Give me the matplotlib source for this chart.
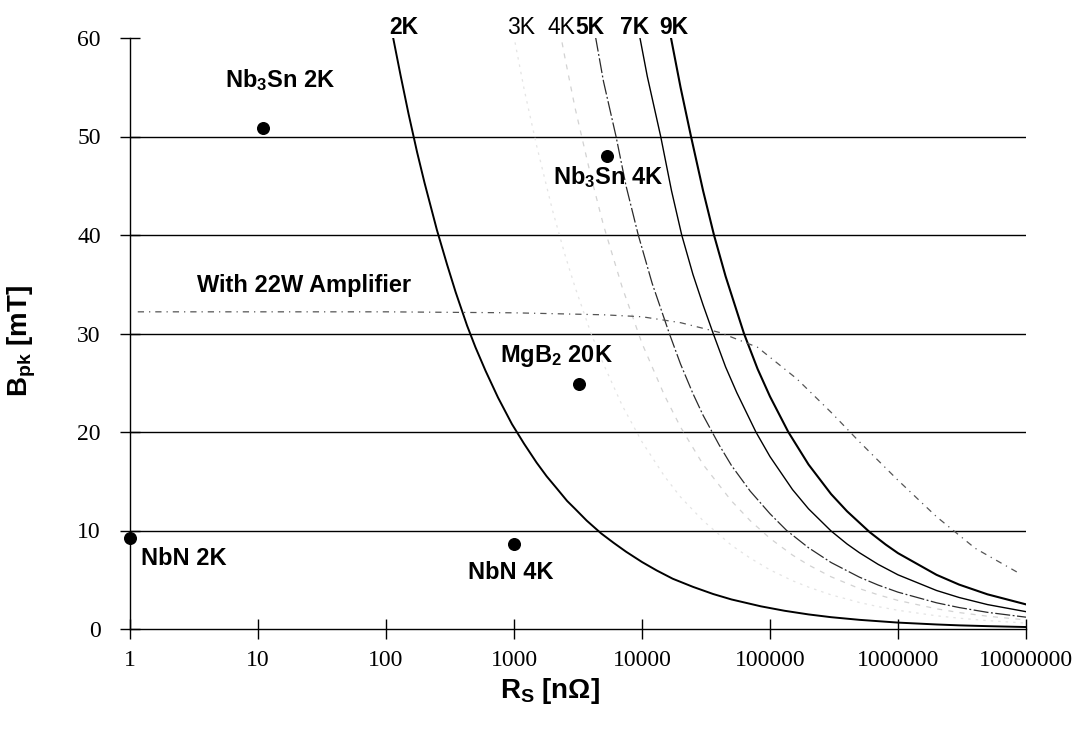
import matplotlib
matplotlib.use('Agg')
import matplotlib.pyplot as plt

plt.rcParams['mathtext.default'] = 'regular'
plt.rcParams['font.family'] = ['Liberation Sans', 'DejaVu Sans']

# ---------------- data ----------------
x_ticks = [1, 10, 100, 1000, 10000, 100000, 1000000, 10000000]
x_tick_labels = ['1', '10', '100', '1000', '10000', '100000', '1000000', '10000000']
y_ticks = [0, 10, 20, 30, 40, 50, 60]

rs_2k = [100, 113, 130, 150, 175, 200, 250, 300, 350, 430, 500, 600, 750, 964,
         1200, 1500, 1800, 2150, 2600, 3000, 3700, 4800, 6000, 7500, 10000,
         13000, 17400, 25000, 36000, 50000, 85000, 130000, 200000, 300000,
         500000, 1000000, 2000000, 3000000, 5000000, 10000000]
b_2k = [64.0, 60.2, 56.2, 52.3, 48.4, 45.3, 40.5, 37.0, 34.2, 30.8, 28.6, 26.2,
        23.5, 20.8, 18.8, 16.9, 15.5, 14.3, 13.0, 12.2, 11.0, 9.7, 8.75, 7.85,
        6.8, 5.95, 5.1, 4.28, 3.55, 3.0, 2.3, 1.85, 1.48, 1.2, 0.93, 0.65, 0.46,
        0.37, 0.29, 0.2]

rs_3k = [900, 1000, 1200, 1500, 2000, 2500, 3000, 4000, 5000, 7000, 10000, 15000,
         20000, 30000, 50000, 70000, 100000, 150000, 200000, 300000, 500000,
         700000, 1000000, 2000000, 3000000, 5000000, 10000000]
b_3k = [63.3, 60.1, 54.8, 49.1, 42.5, 38.0, 34.7, 30.0, 26.9, 22.7, 19.0, 15.5,
        13.4, 11.0, 8.5, 7.2, 6.0, 4.9, 4.25, 3.47, 2.69, 2.27, 1.9, 1.34, 1.1,
        0.85, 0.6]

rs_4k = [2200, 2500, 3000, 4000, 5000, 7000, 10000, 15000, 20000, 30000, 50000,
         70000, 100000, 150000, 200000, 300000, 500000, 700000, 1000000,
         2000000, 3000000, 5000000, 10000000]
b_4k = [61.8, 58.0, 52.9, 45.9, 41.0, 34.7, 29.0, 23.7, 20.5, 16.7, 13.0, 11.0,
        9.2, 7.5, 6.5, 5.3, 4.1, 3.47, 2.9, 2.05, 1.67, 1.3, 0.92]

rs_5k = [4000, 4350, 5000, 6270, 7500, 9350, 12000, 16350, 20000, 25000, 30000,
         40000, 50000, 70000, 100000, 135000, 200000, 300000, 500000, 700000,
         1000000, 2000000, 3000000, 5000000, 10000000]
b_5k = [62.3, 60.0, 55.6, 50.0, 45.0, 40.0, 35.1, 30.0, 26.9, 23.9, 21.7, 18.7,
        16.6, 14.0, 11.7, 10.0, 8.25, 6.75, 5.26, 4.46, 3.74, 2.66, 2.18, 1.69,
        1.2]

rs_7k = [9000, 9644, 11000, 14000, 17000, 20430, 25000, 30000, 36000, 45000,
         55000, 77600, 100000, 150000, 200000, 300000, 400000, 500000, 700000,
         1000000, 2000000, 3000000, 5000000, 10000000]
b_7k = [62.2, 60.0, 56.1, 50.0, 44.5, 40.0, 36.0, 32.9, 30.0, 26.6, 24.0, 20.0,
        17.5, 14.15, 12.2, 9.95, 8.63, 7.74, 6.56, 5.5, 3.91, 3.2, 2.48, 1.76]

rs_9k = [16000, 16850, 20000, 24150, 30000, 36500, 45000, 62600, 80000, 100000,
         139000, 200000, 300000, 400000, 600000, 800000, 1000000, 2000000,
         3000000, 5000000, 10000000]
b_9k = [61.6, 60.0, 55.0, 50.0, 44.5, 40.0, 35.8, 30.0, 26.4, 23.6, 20.0, 16.7,
        13.7, 11.95, 9.84, 8.58, 7.7, 5.5, 4.51, 3.52, 2.5]

amp_rs = [1.15, 10, 100, 1000, 5000, 10000, 20000, 40500, 80000, 162000, 300000,
          500000, 1000000, 2000000, 4000000, 9000000]
amp_b = [32.2, 32.2, 32.2, 32.1, 31.9, 31.7, 31.1, 30.1, 28.6, 25.4, 22.0,
         19.0, 15.1, 11.4, 8.2, 5.6]

pt_names = ['NbN 2K', 'Nb$_3$Sn 2K', 'NbN 4K', 'MgB$_2$ 20K', 'Nb$_3$Sn 4K']
pt_rs = [1, 11, 1000, 3230, 5300]
pt_b = [9.2, 50.9, 8.6, 24.9, 48.0]

curve_labels = ['2K', '3K', '4K', '5K', '7K', '9K']
curve_label_rs = [137.5, 1130, 2330, 3950, 8720, 17800]

# ---------------- figure ----------------
fig = plt.figure(figsize=(10.83, 7.33), dpi=100)
ax = fig.add_axes([130 / 1083, 104 / 733, 896 / 1083, 591 / 733])
ax.set_xscale('log')
ax.set_xlim(1, 1e7)
ax.set_ylim(0, 60)

# horizontal gridlines (no line at 60)
for yv in y_ticks[1:-1]:
    ax.axhline(yv, color='black', lw=1.0, zorder=1)

ax.plot(rs_3k, b_3k, color='#e4e4e4', lw=0.9, ls=(0, (2, 4)), zorder=2)
ax.plot(rs_4k, b_4k, color='#d2d2d2', lw=0.9, ls=(0, (4, 5)), zorder=2)
ax.plot(rs_5k, b_5k, color='#2a2a2a', lw=0.9, ls=(0, (12, 2, 1.5, 2)), zorder=3)
ax.plot(rs_7k, b_7k, color='black', lw=1.0, zorder=3)
ax.plot(rs_9k, b_9k, color='black', lw=1.5, zorder=3)
ax.plot(rs_2k, b_2k, color='black', lw=1.4, zorder=3)
ax.plot(amp_rs, amp_b, color='#555555', lw=0.9, ls=(0, (5, 4, 1, 4)), zorder=3)

ax.scatter(pt_rs, pt_b, s=70, color='black', zorder=5, clip_on=False)

# point labels
offsets = [(39, -19), (12, 29), (-2, -25), (-16, 16), (1, -20)]
for name, r, b, off in zip(pt_names, pt_rs, pt_b, offsets):
    ax.annotate(name, (r, b), xytext=off, textcoords='offset points',
                ha='center', va='baseline', fontsize=17, fontweight='bold')

ax.text(22.9, 34.24, 'With 22W Amplifier', ha='center', va='baseline',
        fontsize=17, fontweight='bold')

# curve labels above plot
for lab, r in zip(curve_labels, curve_label_rs):
    w = 'normal' if lab in ('3K', '4K') else 'bold'
    ax.text(r, 60.4, lab, ha='center', va='baseline', fontsize=16.5,
            fontweight=w, clip_on=False)

# axes styling
ax.spines['top'].set_visible(False)
ax.spines['right'].set_visible(False)
ax.spines['left'].set_linewidth(1.0)
ax.spines['bottom'].set_linewidth(1.0)
ax.set_xticks(x_ticks)
ax.set_xticklabels(x_tick_labels)
ax.xaxis.set_minor_locator(matplotlib.ticker.NullLocator())
ax.set_yticks(y_ticks)
ax.tick_params(axis='both', direction='inout', length=14, width=1.0,
               labelsize=17)
ax.tick_params(axis='y', pad=14)
ax.tick_params(axis='x', pad=8)
for lab in ax.get_xticklabels() + ax.get_yticklabels():
    lab.set_fontfamily('Liberation Serif')

ax.set_xlabel('R$_S$ [n\u03a9]', fontsize=20, fontweight='bold')
ax.set_ylabel('B$_{pk}$ [mT]', fontsize=20, fontweight='bold')
ax.xaxis.set_label_coords((550 - 130) / 896, (629 - 676) / 591)
ax.yaxis.set_label_coords((38 - 130) / 896, (629 - 341) / 591)

fig.savefig('out.png', dpi=100)
